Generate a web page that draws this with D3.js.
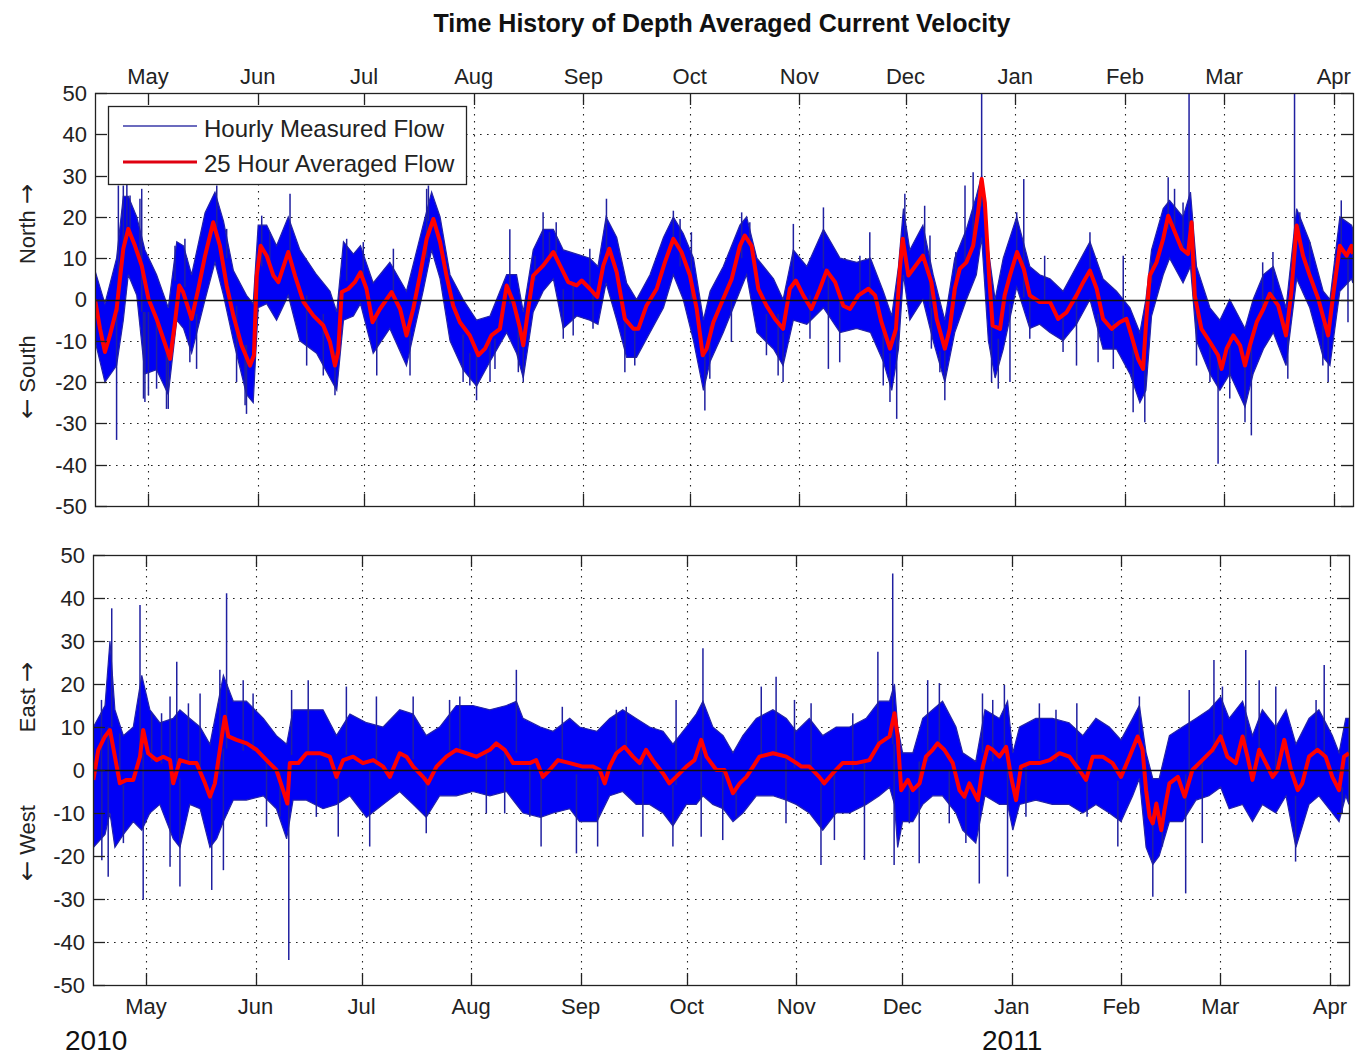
<!DOCTYPE html>
<html>
<head>
<meta charset="utf-8">
<script src="https://cdn.jsdelivr.net/npm/d3@7"></script>
<style>
  body { margin: 0; background: #fff; }
  text { font-family: "Liberation Sans", Arial, sans-serif; }
</style>
</head>
<body>
<svg id="chart" width="1355" height="1059"></svg>
<script>
// ---- record period (days are counted from the first hour of the record) ----
const recordStart = Date.UTC(2010, 3, 16);
const recordEnd = Date.UTC(2011, 3, 6, 10);

const monthTickDates = ["2010-05-01", "2010-06-01", "2010-07-01", "2010-08-01", "2010-09-01", "2010-10-01",
  "2010-11-01", "2010-12-01", "2011-01-01", "2011-02-01", "2011-03-01", "2011-04-01"];
const monthLabels = ["May", "Jun", "Jul", "Aug", "Sep", "Oct", "Nov", "Dec", "Jan", "Feb", "Mar", "Apr"];
const velocityTicks = [50, 40, 30, 20, 10, 0, -10, -20, -30, -40, -50];
const yearLabels = ["2010", "2011"];

// ---- North/South component ----
// 25 hour averaged flow: [day, cm/s]
const northMean = [[0,0],[1.4,-7],[2.8,-12.7],[4.2,-8.7],[6.1,-2.3],[8,12.3],[9.4,17.1],[11.3,13],[13.2,8.2],[15.1,0.2],
  [17.4,-4.7],[19.3,-9.5],[21.2,-14.4],[22.6,-5.5],[23.8,3.4],[24.9,1.8],[27.3,-4.7],[29.2,2.6],[31.1,10.6],[33.4,18.7],
  [35.3,13],[37.2,3.4],[39.1,-3.9],[41.4,-11.1],[43.8,-16],[44.9,-13.5],[45.7,5.8],[46.8,13],[48.5,10.6],[50.4,5.8],
  [51.8,4.2],[54.6,11.5],[56.5,5.8],[58.9,-0.6],[61.7,-3.9],[64.5,-6.3],[66.4,-10.3],[67.8,-16],[68.7,-12.7],[69.7,1.8],
  [71.6,2.6],[73.4,4.2],[75,6.6],[76.7,2.6],[78.4,-5.5],[80.5,-2.3],[83.8,1.8],[86.2,-2.3],[88,-8.7],[89.9,-2.3],
  [91.8,5.8],[93.7,14.7],[95.6,19.5],[97.5,13.9],[99.3,5.8],[101.2,-1.5],[103.1,-5.5],[105.9,-8.7],[108.3,-13.5],[110.2,-11.9],
  [112,-8.7],[114.4,-7.1],[116.3,3.4],[118.2,-0.6],[120.1,-7.1],[121,-11.1],[122.4,-2.3],[123.8,5.8],[126.6,8.2],[129.5,11.5],
  [131.4,8.2],[133.7,4.2],[136.1,3.4],[137.5,4.6],[139.8,2.6],[141.9,0.6],[143.6,8.2],[145.3,12.3],[147.4,6.6],[149.7,-4.7],
  [152.1,-7.1],[153.5,-7.1],[155.8,-1.5],[158.7,2.6],[161,9],[163.4,14.7],[165.7,11.5],[168.1,5.8],[170,-2.3],[171.7,-13.5],
  [172.8,-11.9],[174.7,-5.5],[177.5,0.2],[179.9,5],[182.2,13],[183.6,15.5],[185.5,13],[187.4,2.6],[189.7,-1.5],[192.1,-4.7],
  [194.4,-7.1],[196.3,2.6],[198,4.6],[200.1,1],[202.4,-2.3],[204.8,2.6],[206.7,7],[209.1,4.2],[211.4,-1.5],[213.3,-2.3],
  [215.7,1],[218.5,2.6],[220.4,1],[222.2,-5.5],[224.6,-11.9],[226.3,-7.1],[227.4,7.4],[228.2,14.7],[229.8,5.8],[233.9,10.6],
  [236.3,4.2],[237.8,-4.7],[240.1,-11.9],[241.5,-7.1],[242.9,2.6],[244.3,7.4],[246.2,9],[248.1,13],[249.5,21.1],[250.5,29.2],
  [251.4,23.5],[252.6,5.8],[253.6,-6.3],[255.7,-7.1],[257,1],[258.5,5.8],[260.5,11.5],[262.4,7.4],[264.1,1],[266.9,-0.6],
  [269.8,-0.6],[272.1,-4.7],[274.5,-3.1],[277.3,1],[279.2,4.2],[281.1,7],[283,2.6],[284.8,-4.7],[287.2,-7.1],[289.5,-5.5],
  [291.4,-4.7],[292.8,-8.7],[294.7,-14.4],[296.1,-16.8],[297.1,-3.9],[298,5.8],[299.9,9],[301.8,14.7],[303.2,20.3],[305.1,16.3],
  [307,12.3],[308.8,11],[309.8,18.7],[310.7,1],[312.6,-7.1],[315,-10.3],[317.3,-13.5],[318.3,-16.8],[319.7,-11.9],[321.6,-8.7],
  [323.5,-11.1],[324.9,-16],[326.3,-11.1],[328.2,-5.5],[330.1,-2.3],[331.9,1.4],[334.3,-1.5],[336.5,-8.7],[338,1.8],[339.5,17.9],
  [341.3,10.6],[343.2,5.8],[345.6,0.2],[348.4,-8.7],[349.8,1],[351.7,13],[353.6,10.6],[355,13],[355.4,11]];

// hourly measured flow, tidal envelope: [day, highest, lowest]
const northHourlyRange = [[0,7,-10],[2.8,-1,-20],[6.1,10,-16],[8,25,-5],[9.4,25,6],[11.8,20,1],[14.1,12,-18],[17.4,6,-17],
  [20.7,-2,-23],[23.1,14,-5],[25,13,-7],[27.3,6,-13],[31.1,21,0],[33.9,26,9],[36.3,19,1],[39.1,7,-10],[42.8,1,-23],
  [44.7,-1,-25],[46.1,18,-2],[48.5,18,-1],[51.3,13,-5],[54.6,20,1],[57.9,12,-10],[62.6,6,-13],[66.4,2,-19],[68.3,-3,-22],
  [70.2,14,-5],[73,11,-4],[75,13,-1],[78.6,4,-13],[83.3,9,-7],[88,2,-16],[92.7,18,2],[95.1,26,12],[97.5,20,5],[100.3,6,-10],
  [104,0,-17],[107.8,-5,-21],[111.6,-4,-15],[116.3,6,-8],[119.1,6,-13],[121,-3,-19],[123.8,12,-3],[126.6,17,2],[129.5,17,5],
  [132.3,12,-7],[136.1,11,-4],[139.8,10,-5],[142.1,8,-6],[144.4,20,4],[147.4,15,-5],[150.2,4,-14],[153,0,-14],[156.8,6,-8],
  [160.6,15,-2],[163.4,20,6],[166.2,16,0],[169.1,10,-10],[171.9,-5,-22],[173.8,2,-15],[177.5,8,-8],[182.2,18,2],[184.1,20,6],
  [187,10,-8],[191.7,5,-12],[194.4,0,-16],[197.3,12,-5],[201.1,8,-6],[205.8,17,-2],[210.5,10,-8],[215.2,9,-7],[219.1,10,-8],
  [222.7,2,-15],[225.1,-4,-22],[227,8,-12],[228.4,22,6],[230.2,12,-5],[233.9,18,0],[236.8,6,-10],[240.1,-5,-20],[242.9,10,-8],
  [246.2,17,0],[249,25,6],[250.5,30,15],[252.4,12,-10],[254.3,0,-19],[256.6,10,-12],[260.4,20,3],[264.1,8,-7],[266.9,6,-6],
  [269.8,5,-8],[273.5,2,-10],[277.3,8,-6],[281.1,14,0],[284.8,5,-12],[288.6,2,-12],[292.4,-2,-18],[295.2,-8,-25],[296.9,0,-22],
  [298.5,12,-4],[301.8,22,6],[303.6,24,10],[307.4,20,4],[309.5,26,8],[311.2,8,-10],[315,-2,-18],[317.8,-5,-22],[320.6,0,-18],
  [324.9,-7,-26],[327.2,0,-18],[330.1,6,-12],[332.9,8,-8],[336.5,-2,-16],[339.5,22,5],[343.2,14,-2],[347,2,-14],[348.9,0,-16],
  [351.7,20,2],[355,18,5],[355.4,17,4]];

// isolated hourly extremes: [day, cm/s]
const northPeaks = [[6.1,-34],[6.6,27.6],[8,27.6],[9,29],[9.9,25.2],[12.7,24.4],[13.2,26.8],[13.7,-24],[14.1,-24.8],
  [15.1,-23.2],[17.4,-21.6],[20.2,-26.5],[20.7,-26.5],[22.6,13],[25.4,14.7],[26.8,-15.2],[28.7,-16.8],[34.4,27.6],
  [37.2,17.1],[40,-20],[42.4,-25.6],[42.8,-27.7],[47.1,20.3],[49.4,16.3],[55.1,25.6],[59.8,-16],[64.5,-18.4],[67.8,-23.2],
  [71.1,14.7],[75.8,13.9],[79.6,-18.4],[84.3,12.3],[89,-18.4],[93.7,26.8],[94.2,27.6],[104,-20],[105.9,-20.8],[107.8,-24.4],
  [111.6,-20],[113,-16.8],[117.2,17],[119.6,-17.6],[121,-20],[124.3,10.6],[126.6,21.1],[128.4,16.3],[130.3,18.7],
  [132.3,-9.5],[135.1,-8.7],[139.8,12.3],[140.7,-7.1],[144.5,24.4],[149.7,-17.6],[152.5,-16],[163.4,21.5],[165.3,19.5],
  [168.5,16.3],[172.3,-26.9],[173.7,-19.2],[179.8,-10.3],[182.7,21.1],[185,18.7],[189.7,-13.5],[193,-18.4],[194.4,-20],
  [197.3,18.3],[202,-9.5],[205.8,22.3],[207.2,-16.8],[210.4,-15.2],[216.1,10.6],[218.9,16.3],[222.7,-20.8],[224.6,-24.8],
  [226.5,-28.9],[228.8,25.6],[234.4,22.7],[236.3,-11.9],[235.9,15.5],[238.7,-17.6],[240.1,-24.4],[243.2,11.5],[245.8,27.6],
  [248.1,30.8],[250.5,50],[253.3,-20],[255.2,-21.6],[258.5,-20],[260.4,21.1],[262.4,29.2],[264.1,-9.5],[268.3,10.6],
  [273.5,-12.7],[277.3,-16],[281.1,16.3],[283.4,-15.2],[287.7,-16.8],[290.5,10.6],[293.3,-27.3],[296.6,-29.7],[298.5,9],
  [303.2,29.6],[305,26.8],[307.4,23.5],[309.1,50],[311.2,-16],[315,-20],[317.3,-39.8],[320.6,-24],[324.9,-29.7],
  [326.7,-32.9],[329.9,9],[332.8,11.5],[337,-19.2],[338.9,50],[340.4,21.1],[343.2,13.9],[346.9,-16],[348.4,-20],
  [352.1,24],[354,-5.5]];

// ---- East/West component ----
const eastMean = [[0.1,-2.3],[1.5,4.7],[3.4,7.8],[4.8,9.3],[6.2,3.1],[7.6,-3.1],[9.5,-2.3],[11.4,-2.3],[13.3,3.1],[14.2,9.3],
  [15.6,3.9],[18,2.3],[19.9,3.1],[21.8,2.3],[22.7,-3.1],[24.6,2.3],[27.4,1.6],[29.3,1.6],[31.7,-3.1],[33.1,-6.2],
  [34.5,-3.1],[35.9,4.7],[37.3,12.4],[38.3,7.8],[40.6,7],[43.5,6.2],[46.3,4.7],[49.1,2.3],[51.9,0],[53.8,-4.7],
  [55,-7.8],[55.7,1.6],[58.1,1.6],[60.4,3.9],[64.2,3.9],[67,3.1],[68.9,-1.6],[70.8,2.3],[73.6,3.1],[76.4,1.6],
  [79.3,2.3],[82.1,0.8],[84,-1.6],[86.8,3.9],[88.7,3.1],[90.6,0.8],[93.4,-1.6],[94.8,-3.1],[97.2,0.8],[100,3.1],
  [102.8,4.7],[105.6,3.9],[108.5,3.1],[112.3,4.7],[114.1,6.2],[116.5,4.7],[118.9,1.6],[120.7,1.6],[123.6,1.6],[125.4,2.3],
  [127.3,-1.6],[129.2,0],[131.6,2.3],[134.9,1.6],[138.6,0.8],[141.5,0.8],[143.4,0],[144.8,-3.1],[146.2,0.8],[148.1,3.9],
  [150.4,5.4],[152.8,3.1],[154.7,1.6],[156.5,4.7],[158.4,2.3],[161.3,-0.8],[163.1,-3.1],[165,-1.6],[167.9,0.8],[170.2,2.3],
  [172.1,7],[173.6,3.1],[176.4,0],[178.7,0],[181.1,-5.4],[183,-3.1],[184.9,-1.6],[186.8,0.8],[188.6,3.1],[192.4,3.9],
  [196.2,3.1],[199.1,1.6],[200.5,0.8],[202.7,0.8],[205.5,-1.6],[206.9,-3.1],[209.3,-0.8],[212.1,1.6],[215.9,1.6],[219.7,2.3],
  [222.5,6.2],[225.4,7.8],[226.8,13.2],[227.7,7.8],[228.7,-4.7],[230.6,-2.3],[232,-4.7],[233.9,-3.1],[235.7,3.1],[237.6,4.7],
  [239,6.2],[240.9,4.7],[243.3,1.6],[245.2,-4.7],[246.6,-6.2],[248,-3.1],[250.4,-7],[251.8,0.8],[253.2,5.4],[254.6,4.7],
  [256.5,3.1],[258.4,5.4],[259.8,-1.6],[261.2,-7],[262.6,0.8],[265,1.6],[267.8,1.6],[270.7,2.3],[273.5,3.9],[276.3,3.1],
  [279.1,0],[281,-2.3],[282.9,3.1],[285.7,3.1],[288.5,1.6],[290.9,-1.6],[293.3,3.1],[295.6,7.8],[297,4.7],[298,-4.7],
  [299,-10.9],[299.9,-12.4],[300.9,-7.8],[302.3,-14],[303.2,-9.3],[304.6,-3.1],[307,-1.6],[308.9,-6.2],[311.1,0],[313.9,2.3],
  [316.8,4.7],[319.1,7.8],[321,3.1],[323.4,1.6],[325.3,7.8],[326.7,3.1],[328.1,-2.3],[330,4.7],[331.9,1.6],[333.8,-1.6],
  [335.2,0],[337.1,7],[339,0],[340.9,-4.7],[342.2,-3.1],[344.1,3.1],[346.5,4.7],[348.8,3.1],[350.7,-1.6],[352.6,-4.7],
  [354,3.1],[355.4,3.9]];

const eastHourlyRange = [[0.1,10,-18],[3.4,15,-15],[4.8,30,-10],[6.2,14,-18],[8.6,8,-15],[11.4,10,-12],[13.8,22,-14],
  [16.1,14,-10],[18.9,11,-8],[22.7,12,-16],[24.6,14,-18],[27.4,12,-8],[30.3,10,-9],[33.1,6,-18],[35,14,-16],[36.9,22,-12],
  [39.7,16,-7],[43.4,16,-7],[48.2,12,-6],[51.9,8,-9],[54.8,6,-16],[56.6,14,-7],[60.4,14,-7],[65.1,14,-9],[68.9,8,-8],
  [72.7,13,-6],[77.4,11,-11],[82.1,10,-8],[86.8,14,-5],[90.6,13,-8],[94.3,8,-11],[98.1,10,-6],[102.8,15,-6],[107.5,15,-5],
  [112.3,14,-6],[117,15,-5],[119.8,16,-8],[121.7,12,-10],[126.6,10,-11],[130.2,9,-10],[134.9,12,-9],[137.7,10,-12],
  [142.6,9,-12],[146.2,12,-6],[149.9,14,-5],[153.7,12,-8],[157.5,10,-8],[161.3,9,-10],[164.1,6,-13],[167.9,10,-8],
  [170.7,13,-8],[172.6,16,-6],[175.4,10,-8],[178.3,8,-9],[181.1,4,-12],[183.9,8,-10],[187.7,12,-6],[192.4,14,-6],
  [196.2,12,-7],[199,9,-8],[202.7,12,-10],[206.5,8,-14],[210.3,10,-10],[214.1,10,-10],[218.8,12,-8],[222.5,16,-6],
  [225.4,16,-4],[226.8,20,-8],[227.7,10,-18],[229.1,4,-12],[232,4,-12],[234.8,12,-8],[237.6,14,-6],[240.4,16,-6],
  [244.2,10,-10],[246.1,4,-14],[249.8,2,-17],[252.4,14,-6],[256.5,12,-8],[258.8,16,-8],[260.3,4,-14],[262.2,10,-8],
  [266.8,12,-7],[271.5,12,-8],[276.2,11,-8],[280.1,8,-10],[283.8,12,-8],[287.6,10,-10],[290.9,7,-12],[294.2,12,-6],
  [296.1,15,-2],[298,4,-18],[299.9,-2,-22],[301.7,-2,-20],[304.6,8,-12],[308.3,10,-12],[312.1,12,-7],[315.8,14,-6],
  [319.1,17,-4],[321.5,12,-9],[325.3,16,-8],[328.1,8,-12],[330.9,14,-8],[334.7,10,-10],[337.6,14,-6],[340.4,6,-18],
  [344.1,12,-8],[346.9,14,-6],[350.7,8,-10],[352.6,4,-12],[354.5,12,-6],[355.4,12,-8]];

const eastPeaks = [[0.1,-20.9],[2.4,16.3],[2.5,-21],[4.3,-24.8],[5.3,37.6],[7.6,8.5],[8.6,-17],[13.3,38.4],[14.2,-30.2],
  [16.6,13.2],[19.4,13.2],[21.8,17.1],[21.8,-22.5],[23.7,25.2],[24.6,-27.1],[27,15.5],[30.3,17.8],[33.6,-27.9],
  [35.9,23.3],[36.9,-23.3],[37.8,41.1],[42.5,20.9],[45.3,17.8],[49.1,-13.2],[52.9,-10.9],[55.4,-44.2],[56.2,18.6],
  [60.9,20.9],[63.2,-10.9],[69.4,-15.5],[71.7,19.4],[78.3,-17.8],[80.2,17.1],[90.6,17.1],[94.3,-14.7],[100.9,16.3],
  [103.8,17.1],[111.3,-10.1],[116.5,-10.1],[119.8,23.3],[123.6,-10.9],[126.8,-17.8],[132.8,14.7],[136.8,-19.4],
  [142.8,-17.8],[148.1,14],[150.9,14.7],[155.6,-15.5],[164.1,-17.8],[165,16.3],[172.1,-15.5],[172.6,28.3],[178.2,-16.3],
  [182,-10.9],[189.1,19.4],[193.3,21.7],[196.1,-12.4],[198.5,16.3],[203.2,15.5],[206,-22.1],[209.8,-16.3],[215,13.2],
  [218.3,-20.9],[222.1,27.5],[226.3,45.7],[226.7,-22.1],[231,-12.4],[233.8,-21.7],[236.2,20.9],[239.5,20.2],
  [242.3,-12.4],[247,-17],[250.8,-26.4],[251.7,17.8],[254.6,16.3],[257.9,19.8],[258.8,-24.8],[264,-10.9],[267.8,15.5],
  [272.5,14],[278.4,15.5],[281.3,-10.9],[290,-17.8],[296.1,17.1],[299.9,-29.5],[302.6,-17.8],[309.2,-28.7],[310.2,18.6],
  [313.9,-17],[317.2,25.6],[319.6,19.4],[326.2,27.9],[330,20.9],[334.7,19.4],[340.3,-21.3],[346.1,16.3],[348.4,24.4],
  [353.5,-10.1]];

// ---- layout ----
const svg = d3.select("#chart");
const dayMs = 864e5;
const toDate = d => new Date(recordStart + d * dayMs);
const parseDay = d3.utcParse("%Y-%m-%d");

svg.append("text")
  .attr("x", 722).attr("y", 32)
  .attr("text-anchor", "middle")
  .attr("font-size", 25).attr("font-weight", "bold").attr("fill", "#111")
  .text("Time History of Depth Averaged Current Velocity");

const panels = [
  { left: 95, right: 1353, top: 93, bottom: 506, labelsOnTop: true,
    mean: northMean, range: northHourlyRange, peaks: northPeaks,
    upWord: "North", downWord: "South", upY: 224, downY: 377 },
  { left: 93, right: 1349, top: 555, bottom: 985, labelsOnTop: false,
    mean: eastMean, range: eastHourlyRange, peaks: eastPeaks,
    upWord: "East", downWord: "West", upY: 697, downY: 843 }
];

const tickLen = 12;
const gridDash = "1.6,5.4";

panels.forEach((p, i) => {
  const x = d3.scaleUtc().domain([recordStart, recordEnd]).range([p.left, p.right]);
  const y = d3.scaleLinear().domain([-50, 50]).range([p.bottom, p.top]);
  const g = svg.append("g");
  const monthDates = monthTickDates.map(parseDay);

  // dotted grid
  g.append("g").selectAll("line").data(monthDates).join("line")
    .attr("x1", d => Math.round(x(d)) + 0.5).attr("x2", d => Math.round(x(d)) + 0.5)
    .attr("y1", p.top).attr("y2", p.bottom)
    .attr("stroke", "#222").attr("stroke-width", 1.1).attr("stroke-dasharray", gridDash);
  g.append("g").selectAll("line").data(velocityTicks.filter(v => v !== 50 && v !== -50 && v !== 0)).join("line")
    .attr("x1", p.left).attr("x2", p.right)
    .attr("y1", d => Math.round(y(d)) + 0.5).attr("y2", d => Math.round(y(d)) + 0.5)
    .attr("stroke", "#222").attr("stroke-width", 1.1).attr("stroke-dasharray", gridDash);

  const clipId = "clip" + i;
  svg.append("clipPath").attr("id", clipId).append("rect")
    .attr("x", p.left).attr("y", p.top).attr("width", p.right - p.left).attr("height", p.bottom - p.top);
  const plot = g.append("g").attr("clip-path", `url(#${clipId})`);

  // hourly measured flow: tidal envelope band
  const band = d3.area()
    .x(d => x(toDate(d[0])))
    .y0(d => y(d[2]))
    .y1(d => y(d[1]));
  plot.append("path").datum(p.range)
    .attr("d", band)
    .attr("fill", "#0000f5")
    .attr("stroke", "#2323a8").attr("stroke-width", 1.2).attr("stroke-linejoin", "miter");

  // hourly extremes reaching out of the band
  const nearestRange = d => p.range.reduce((a, b) => Math.abs(b[0] - d) < Math.abs(a[0] - d) ? b : a);
  plot.append("g").selectAll("line").data(p.peaks).join("line")
    .attr("x1", d => x(toDate(d[0]))).attr("x2", d => x(toDate(d[0])))
    .attr("y1", d => { const r = nearestRange(d[0]); return y((r[1] + r[2]) / 2); })
    .attr("y2", d => y(d[1]))
    .attr("stroke", "#2020a0").attr("stroke-width", 1.5);

  // zero line
  g.append("line")
    .attr("x1", p.left).attr("x2", p.right)
    .attr("y1", Math.round(y(0)) + 0.5).attr("y2", Math.round(y(0)) + 0.5)
    .attr("stroke", "#111").attr("stroke-width", 1.3);

  // 25 hour averaged flow
  const meanLine = d3.line().x(d => x(toDate(d[0]))).y(d => y(d[1]));
  plot.append("path").datum(p.mean)
    .attr("d", meanLine)
    .attr("fill", "none").attr("stroke", "#ff0000").attr("stroke-width", 4)
    .attr("stroke-linejoin", "round");

  // frame
  g.append("rect")
    .attr("x", p.left + 0.5).attr("y", p.top + 0.5)
    .attr("width", p.right - p.left).attr("height", p.bottom - p.top)
    .attr("fill", "none").attr("stroke", "#222").attr("stroke-width", 1.3);

  // inward ticks on all four sides
  const ticks = g.append("g").attr("stroke", "#222").attr("stroke-width", 1.3);
  monthDates.forEach(d => {
    const xx = Math.round(x(d)) + 0.5;
    ticks.append("line").attr("x1", xx).attr("x2", xx).attr("y1", p.top).attr("y2", p.top + tickLen);
    ticks.append("line").attr("x1", xx).attr("x2", xx).attr("y1", p.bottom).attr("y2", p.bottom - tickLen);
  });
  velocityTicks.forEach(v => {
    const yy = Math.round(y(v)) + 0.5;
    ticks.append("line").attr("x1", p.left).attr("x2", p.left + tickLen).attr("y1", yy).attr("y2", yy);
    ticks.append("line").attr("x1", p.right).attr("x2", p.right - tickLen).attr("y1", yy).attr("y2", yy);
  });

  // tick labels
  g.append("g").selectAll("text").data(velocityTicks).join("text")
    .attr("x", p.left - 8).attr("y", d => y(d)).attr("dy", "0.36em")
    .attr("text-anchor", "end").attr("font-size", 22).attr("fill", "#222")
    .text(d => d);
  g.append("g").selectAll("text").data(monthDates).join("text")
    .attr("x", d => x(d)).attr("y", p.labelsOnTop ? p.top - 9 : p.bottom + 29)
    .attr("text-anchor", "middle").attr("font-size", 22).attr("fill", "#222")
    .text((d, k) => monthLabels[k]);

  // direction labels with arrows
  const upText = g.append("text")
    .attr("transform", `translate(35,${p.upY}) rotate(-90)`)
    .attr("text-anchor", "middle").attr("font-size", 22).attr("fill", "#222");
  upText.append("tspan").text(p.upWord + " ");
  upText.append("tspan").attr("font-family", "'DejaVu Sans', sans-serif").attr("font-size", 24).text("\u2192");
  const downText = g.append("text")
    .attr("transform", `translate(35,${p.downY}) rotate(-90)`)
    .attr("text-anchor", "middle").attr("font-size", 22).attr("fill", "#222");
  downText.append("tspan").attr("font-family", "'DejaVu Sans', sans-serif").attr("font-size", 24).text("\u2190");
  downText.append("tspan").text(" " + p.downWord);
});

// legend
const legend = svg.append("g");
legend.append("rect").attr("x", 108.5).attr("y", 106.5).attr("width", 358).attr("height", 78)
  .attr("fill", "#fff").attr("stroke", "#222").attr("stroke-width", 1.3);
legend.append("line").attr("x1", 123).attr("x2", 197).attr("y1", 126).attr("y2", 126)
  .attr("stroke", "#3a3aa8").attr("stroke-width", 1.6);
legend.append("line").attr("x1", 123).attr("x2", 197).attr("y1", 162).attr("y2", 162)
  .attr("stroke", "#e00010").attr("stroke-width", 3.2);
legend.append("text").attr("x", 204).attr("y", 137).attr("font-size", 24).attr("fill", "#222")
  .text("Hourly Measured Flow");
legend.append("text").attr("x", 204).attr("y", 172).attr("font-size", 24).attr("fill", "#222")
  .text("25 Hour Averaged Flow");

// year annotations under the time axis
svg.append("g").selectAll("text").data(yearLabels).join("text")
  .attr("x", (d, k) => [65, 982][k]).attr("y", 1050)
  .attr("font-family", "'Open Sans', sans-serif").attr("font-size", 28).attr("fill", "#111")
  .text(d => d);
</script>
</body>
</html>
